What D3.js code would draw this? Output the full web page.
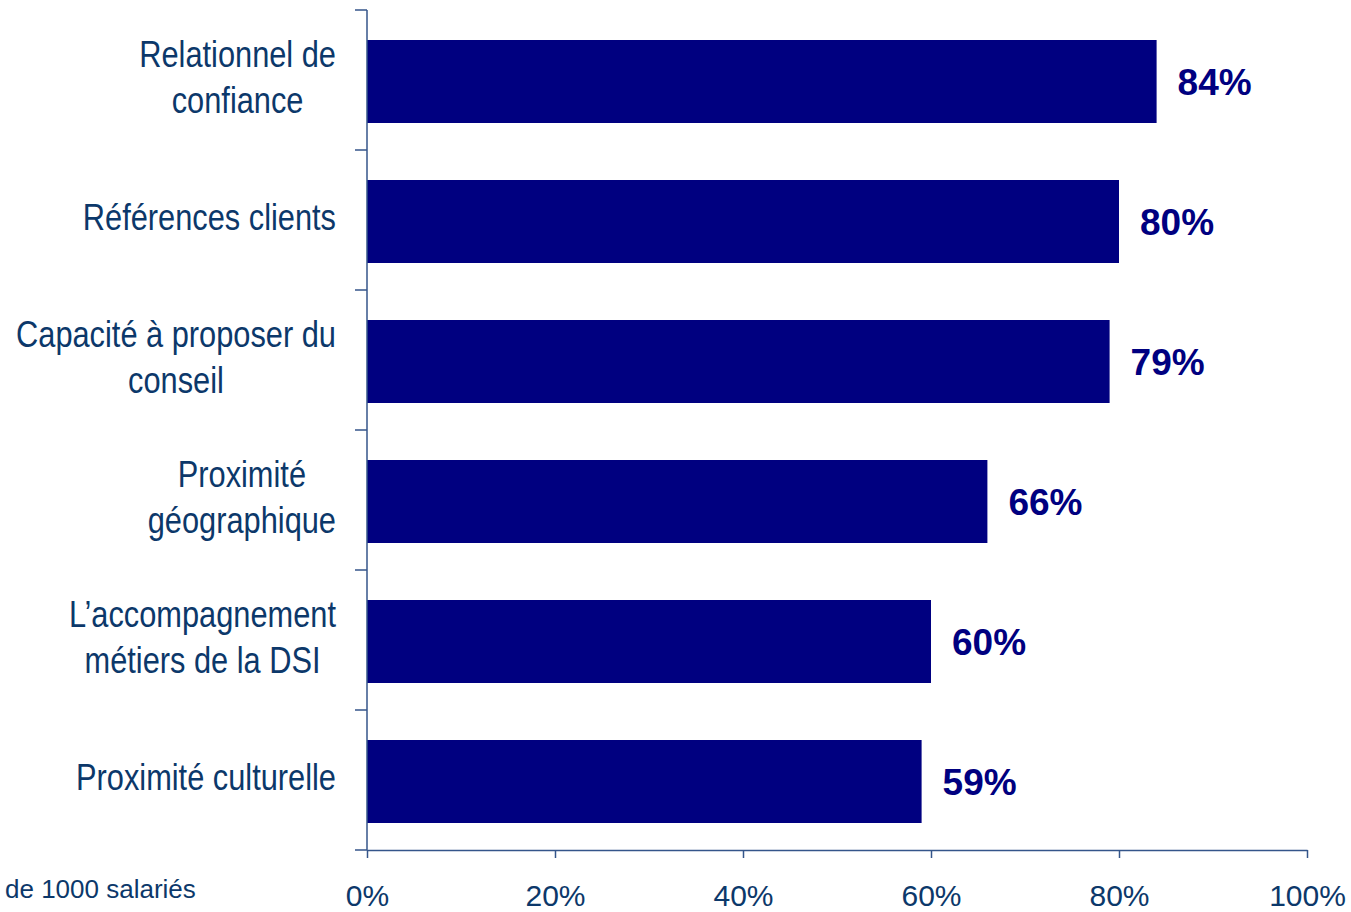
<!DOCTYPE html>
<html>
<head>
<meta charset="utf-8">
<script src="https://cdn.jsdelivr.net/npm/d3@7"></script>
<style>
  body { margin: 0; background: #fff; }
  text { font-family: "Liberation Sans", Arial, sans-serif; }
</style>
</head>
<body>
<div class="bar-chart__container"></div>
<script>
// data
const categories = [
    ['Relationnel de', 'confiance'],
    ['Références clients'],
    ['Capacité à proposer du', 'conseil'],
    ['Proximité', 'géographique'],
    ['L\u2019accompagnement', 'métiers de la DSI'],
    ['Proximité culturelle']
];
const values = [0.84, 0.80, 0.79, 0.66, 0.60, 0.59];
const valueLabels = ['84%', '80%', '79%', '66%', '60%', '59%'];
const xTicks = [0, 0.2, 0.4, 0.6, 0.8, 1];
const footNote = 'de 1000 salariés';

const data = categories.map((c, i) => ({ key: c.join(' '), lines: c, value: values[i], label: valueLabels[i] }));

//d3 chart
const defineChart = (data) => {
    const margin = { top: 10, right: 44, bottom: 62, left: 367 };
    const width = 1351;
    const height = 912;
    const widthChart = width - margin.left - margin.right;
    const heightChart = height - margin.top - margin.bottom;

    const axisColor = '#34558a';
    const textColor = '#0c386a';
    const barColor = '#000080';

    //Scales
    const xScale = d3.scaleLinear().domain([0, 1]).range([0, widthChart]);
    const yScale = d3.scaleBand()
        .domain(data.map(d => d.key))
        .range([0, heightChart])
        .paddingInner(0.4)
        .paddingOuter(0.2);

    const svg = d3.select('.bar-chart__container')
        .append('svg')
        .attr('width', width)
        .attr('height', height)
        .append('g')
        .attr('transform', `translate(${margin.left}, ${margin.top})`);

    // bars
    svg.append('g')
        .selectAll('rect')
        .data(data)
        .enter()
        .append('rect')
        .attr('x', 0)
        .attr('y', d => yScale(d.key) + 2)
        .attr('width', d => xScale(d.value))
        .attr('height', yScale.bandwidth() - 1)
        .style('fill', barColor);

    // value labels
    svg.append('g')
        .selectAll('text')
        .data(data)
        .enter()
        .append('text')
        .attr('x', d => xScale(d.value) + 21)
        .attr('y', d => yScale(d.key) + yScale.bandwidth() / 2 + 15)
        .style('font-size', '37px')
        .style('font-weight', 'bold')
        .style('fill', barColor)
        .text(d => d.label);

    // x axis
    const xAxis = d3.axisBottom(xScale)
        .tickValues(xTicks)
        .tickFormat(d3.format('.0%'))
        .tickSizeInner(8)
        .tickSizeOuter(0);

    const xAxisDraw = svg.append('g')
        .attr('class', 'x-axis')
        .attr('transform', `translate(0,${heightChart})`)
        .call(xAxis);
    xAxisDraw.select('.domain').attr('stroke', axisColor).attr('stroke-width', 1.5);
    xAxisDraw.selectAll('.tick line').attr('stroke', axisColor).attr('stroke-width', 1.5);
    xAxisDraw.selectAll('.tick text')
        .attr('y', 56)
        .attr('dy', 0)
        .style('font-size', '30px')
        .style('fill', textColor)
        .style('font-family', '"Liberation Sans", Arial, sans-serif');

    // y axis: line plus ticks at band boundaries
    const step = yScale.step();
    const start = yScale(data[0].key) - step * yScale.paddingInner() / 2;
    const bounds = d3.range(data.length + 1).map(i => start + i * step);
    const yAxisDraw = svg.append('g').attr('class', 'y-axis');
    yAxisDraw.append('line')
        .attr('x1', 0).attr('x2', 0)
        .attr('y1', bounds[0]).attr('y2', bounds[bounds.length - 1])
        .attr('stroke', axisColor).attr('stroke-width', 1.5);
    yAxisDraw.selectAll('.ytick')
        .data(bounds)
        .enter()
        .append('line')
        .attr('x1', -12).attr('x2', 0)
        .attr('y1', d => d).attr('y2', d => d)
        .attr('stroke', axisColor).attr('stroke-width', 1.5);

    // category labels (condensed, centered within a right-aligned block)
    const lineH = 47;
    const labels = yAxisDraw.selectAll('.cat')
        .data(data)
        .enter()
        .append('g')
        .attr('class', 'cat')
        .attr('transform', d => `translate(-31,${yScale(d.key) + yScale.bandwidth() / 2})`);

    labels.each(function (d) {
        const g = d3.select(this);
        const t = g.append('text')
            .style('font-size', '36px')
            .style('fill', textColor)
            .attr('text-anchor', 'middle');
        const n = d.lines.length;
        d.lines.forEach((l, i) => {
            t.append('tspan')
                .attr('x', 0)
                .attr('y', (i - (n - 1) / 2) * lineH + 10)
                .text(l);
        });
        // measure and shift so block is right-aligned
        const w = d3.max(t.selectAll('tspan').nodes(), n => n.getComputedTextLength());
        t.attr('transform', `scale(0.855,1) translate(${-w / 2},0)`);
    });

    // footnote
    d3.select('svg').append('text')
        .attr('x', 5)
        .attr('y', 898)
        .style('font-size', '26px')
        .style('fill', textColor)
        .text(footNote);
};

defineChart(data);
</script>
</body>
</html>
